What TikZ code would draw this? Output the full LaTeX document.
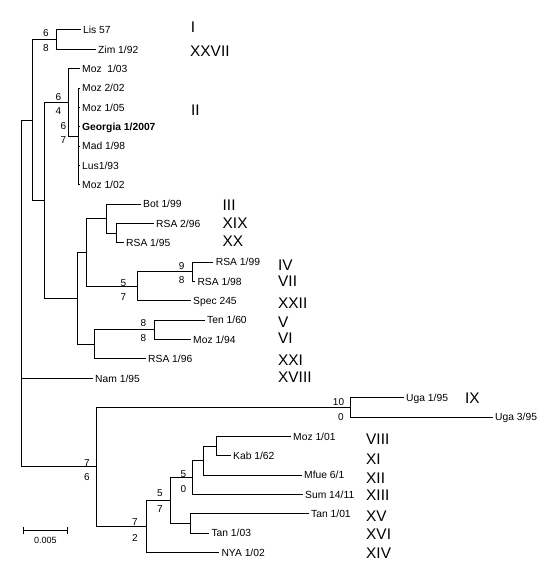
\documentclass[tikz,border=0pt]{standalone}
\usepackage{fontspec}
\setmainfont{Liberation Sans}
\usetikzlibrary{calc}
\newcommand{\leaffont}{\fontsize{10.3}{12}\selectfont}
\newcommand{\romfont}{\fontsize{15.4}{18}\selectfont}
\newcommand{\bsfont}{\fontsize{10}{12}\selectfont}
\newcommand{\sbfont}{\fontsize{9}{11}\selectfont}
\begin{document}
\begin{tikzpicture}[x=1pt,y=-1pt,
  br/.style={line width=1pt, line cap=rect},
  leaf/.style={anchor=west, inner sep=0pt, xshift=3pt, font=\leaffont, text height=7.4pt, text depth=0pt},
  rn/.style={anchor=west, inner sep=0pt, font=\romfont, text height=11pt, text depth=0pt},
  bs/.style={anchor=center, inner sep=0pt, font=\bsfont, text height=7.2pt, text depth=0pt}]
\useasboundingbox (0,0) rectangle (554,583);
% internal nodes
\coordinate (root) at (21,293.5);
\coordinate (A) at (32,120.1);
\coordinate (B) at (56,39.68);
\coordinate (C) at (44,200.5);
\coordinate (D) at (68,102.55);
\coordinate (E) at (78,136.4);
\coordinate (F) at (77,298.5);
\coordinate (G) at (86,252.55);
\coordinate (H) at (106,218.7);
\coordinate (I) at (116,233.2);
\coordinate (J) at (137,286.4);
\coordinate (K) at (192.7,271.9);
\coordinate (L) at (94,344.4);
\coordinate (M) at (154,329.9);
\coordinate (N) at (96,466.9);
\coordinate (O) at (350,407.3);
\coordinate (P) at (146,526.5);
\coordinate (Q) at (170.7,500.5);
\coordinate (R) at (192.7,477.5);
\coordinate (S) at (203.3,460.5);
\coordinate (T) at (216.7,446);
\coordinate (U) at (190,523.4);
% leaf tips
\coordinate (lis) at (80,30);
\coordinate (zim) at (95,49.35);
\coordinate (m103) at (79,68.7);
\coordinate (m202) at (79,88.05);
\coordinate (m105) at (79,107.4);
\coordinate (geo) at (79,126.75);
\coordinate (mad) at (79,146.1);
\coordinate (lus) at (79,165.45);
\coordinate (m102) at (79,184.8);
\coordinate (bot) at (140,204.15);
\coordinate (r296) at (153,223.5);
\coordinate (r195) at (123,242.85);
\coordinate (r199) at (212.7,262.2);
\coordinate (r198) at (194.3,281.55);
\coordinate (spec) at (190,300.9);
\coordinate (ten) at (204,320.25);
\coordinate (m194) at (190,339.6);
\coordinate (r196) at (145,358.95);
\coordinate (nam) at (92,378.3);
\coordinate (u195) at (403,397.65);
\coordinate (u395) at (492,417);
\coordinate (m101) at (290,436.35);
\coordinate (kab) at (230,455.7);
\coordinate (mfue) at (301,475.05);
\coordinate (sum) at (302,494.4);
\coordinate (t101) at (308,513.75);
\coordinate (t103) at (208.3,533.1);
\coordinate (nya) at (218.3,552.45);
% branches
\draw[br] (root) |- (A); \draw[br] (root) |- (nam); \draw[br] (root) |- (N);
\draw[br] (A) |- (B); \draw[br] (A) |- (C);
\draw[br] (B) |- (lis); \draw[br] (B) |- (zim);
\draw[br] (C) |- (D); \draw[br] (C) |- (F);
\draw[br] (D) |- (m103); \draw[br] (D) |- (E);
\foreach \t in {m202,m105,geo,mad,lus,m102} {\draw[br] (E) |- (\t);}
\draw[br] (F) |- (G); \draw[br] (F) |- (L);
\draw[br] (G) |- (H); \draw[br] (G) |- (J);
\draw[br] (H) |- (bot); \draw[br] (H) |- (I);
\draw[br] (I) |- (r296); \draw[br] (I) |- (r195);
\draw[br] (J) |- (K); \draw[br] (J) |- (spec);
\draw[br] (K) |- (r199); \draw[br] (K) |- (r198);
\draw[br] (L) |- (M); \draw[br] (L) |- (r196);
\draw[br] (M) |- (ten); \draw[br] (M) |- (m194);
\draw[br] (N) |- (O); \draw[br] (N) |- (P);
\draw[br] (O) |- (u195); \draw[br] (O) |- (u395);
\draw[br] (P) |- (Q); \draw[br] (P) |- (nya);
\draw[br] (Q) |- (R); \draw[br] (Q) |- (U);
\draw[br] (R) |- (S); \draw[br] (R) |- (sum);
\draw[br] (S) |- (T); \draw[br] (S) |- (mfue);
\draw[br] (T) |- (m101); \draw[br] (T) |- (kab);
\draw[br] (U) |- (t101); \draw[br] (U) |- (t103);
% leaf labels
\node[leaf] (Llis) at (lis) {Lis 57};
\node[leaf] (Lzim) at (zim) {Zim 1/92};
\node[leaf] (Lm103) at (m103) {Moz\ \ 1/03};
\node[leaf] (Lm202) at (m202) {Moz 2/02};
\node[leaf] (Lm105) at (m105) {Moz 1/05};
\node[leaf] (Lgeo) at (geo) {\textbf{Georgia 1/2007}};
\node[leaf] (Lmad) at (mad) {Mad 1/98};
\node[leaf] (Llus) at (lus) {Lus1/93};
\node[leaf] (Lm102) at (m102) {Moz 1/02};
\node[leaf] (Lbot) at (bot) {Bot 1/99};
\node[leaf] (Lr296) at (r296) {RSA 2/96};
\node[leaf] (Lr195) at (r195) {RSA 1/95};
\node[leaf] (Lr199) at (r199) {RSA 1/99};
\node[leaf] (Lr198) at (r198) {RSA 1/98};
\node[leaf] (Lspec) at (spec) {Spec 245};
\node[leaf] (Lten) at (ten) {Ten 1/60};
\node[leaf] (Lm194) at (m194) {Moz 1/94};
\node[leaf] (Lr196) at (r196) {RSA 1/96};
\node[leaf] (Lnam) at (nam) {Nam 1/95};
\node[leaf] (Lu195) at (u195) {Uga 1/95};
\node[leaf] (Lu395) at (u395) {Uga 3/95};
\node[leaf] (Lm101) at (m101) {Moz 1/01};
\node[leaf] (Lkab) at (kab) {Kab 1/62};
\node[leaf] (Lmfue) at (mfue) {Mfue 6/1};
\node[leaf] (Lsum) at (sum) {Sum 14/11};
\node[leaf] (Lt101) at (t101) {Tan 1/01};
\node[leaf] (Lt103) at (t103) {Tan 1/03};
\node[leaf] (Lnya) at (nya) {NYA 1/02};
% support values
\node[bs] (sB1) at (46,33) {6};   \node[bs] (sB2) at (46,47.5) {8};
\node[bs] (sD1) at (58.3,96.7) {6}; \node[bs] (sD2) at (58.3,111) {4};
\node[bs] (sE1) at (63.3,126) {6}; \node[bs] (sE2) at (63.3,140) {7};
\node[bs] (sK1) at (181.7,266) {9}; \node[bs] (sK2) at (181.7,280) {8};
\node[bs] (sJ1) at (123.3,283.3) {5}; \node[bs] (sJ2) at (123.3,296.7) {7};
\node[bs] (sM1) at (143.3,323.3) {8}; \node[bs] (sM2) at (143.3,338.3) {8};
\node[bs] (sO1) at (338.5,402.3) {10}; \node[bs] (sO2) at (341,416.7) {0};
\node[bs] (sN1) at (87,462.7) {7}; \node[bs] (sN2) at (87,476.7) {6};
\node[bs] (sP1) at (135,521.7) {7}; \node[bs] (sP2) at (135,537.7) {2};
\node[bs] (sQ1) at (160,493.3) {5}; \node[bs] (sQ2) at (160,509.3) {7};
\node[bs] (sR1) at (183.3,474.3) {5}; \node[bs] (sR2) at (183.3,489.3) {0};
% roman numerals
\node[rn] (rI) at (190.7,26.7) {I};
\node[rn] (rXXVII) at (190,50.7) {XXVII};
\node[rn] (rII) at (191,110) {II};
\node[rn] (rIII) at (222.5,205) {III};
\node[rn] (rXIX) at (222.5,223.3) {XIX};
\node[rn] (rXX) at (222.5,240.7) {XX};
\node[rn] (rIV) at (278,265) {IV};
\node[rn] (rVII) at (278,281) {VII};
\node[rn] (rXXII) at (278,302.7) {XXII};
\node[rn] (rV) at (278,321.7) {V};
\node[rn] (rVI) at (278,338.3) {VI};
\node[rn] (rXXI) at (278,360) {XXI};
\node[rn] (rXVIII) at (278,377.3) {XVIII};
\node[rn] (rIX) at (465,398.3) {IX};
\node[rn] (rVIII) at (366,439) {VIII};
\node[rn] (rXI) at (366,459) {XI};
\node[rn] (rXII) at (366,477.7) {XII};
\node[rn] (rXIII) at (366,495) {XIII};
\node[rn] (rXV) at (366,516) {XV};
\node[rn] (rXVI) at (366,534) {XVI};
\node[rn] (rXIV) at (366,552.7) {XIV};
% scale bar
\coordinate (sb1) at (23.3,530.7);
\coordinate (sb2) at (67.3,530.7);
\draw[line width=1pt] (sb1) -- (sb2);
\draw[line width=1pt] ($(sb1)+(0,-3.5)$) -- ($(sb1)+(0,3.5)$);
\draw[line width=1pt] ($(sb2)+(0,-3.5)$) -- ($(sb2)+(0,3.5)$);
\node[anchor=center, inner sep=0pt, font=\sbfont, text height=6.5pt, text depth=0pt] (sbl) at (45.3,540.5) {0.005};
\end{tikzpicture}
\end{document}
